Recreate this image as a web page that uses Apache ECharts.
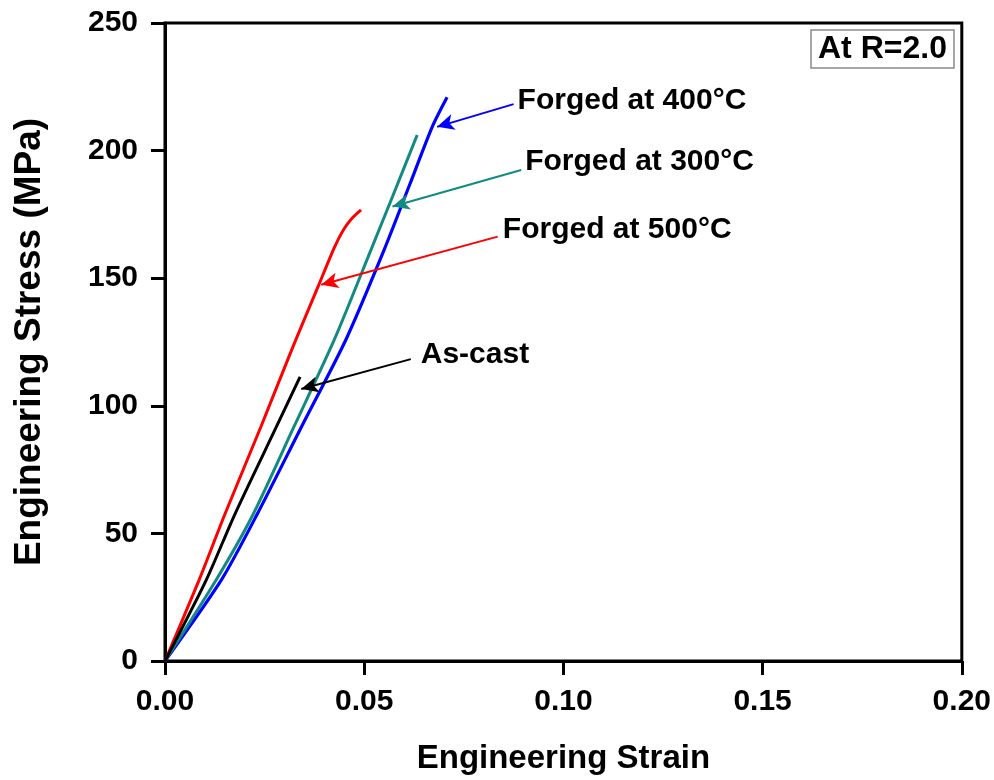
<!DOCTYPE html>
<html>
<head>
<meta charset="utf-8">
<script src="https://cdn.jsdelivr.net/npm/echarts@6/dist/echarts.min.js"></script>
<style>html,body{margin:0;padding:0;background:#fff;}#c{width:994px;height:780px;}</style>
</head>
<body>
<div id="c"></div>
<script>
// ---- data (strain, stress MPa) ----
const xTicks = [0, 0.05, 0.10, 0.15, 0.20];
const yTicks = [0, 50, 100, 150, 200, 250];

const strain400 = [0, 0.0142, 0.0231, 0.0343, 0.0454, 0.0550, 0.0615, 0.0671, 0.0708];
const stress400 = [0, 31.9, 57.4, 91.9, 125.9, 161.1, 187.0, 209.4, 220.9];

const strain300 = [0, 0.0129, 0.0221, 0.0324, 0.0425, 0.0517, 0.0575, 0.0633];
const stress300 = [0, 31.9, 57.4, 91.9, 125.9, 161.1, 183.5, 206.1];

const strain500 = [0, 0.0086, 0.0150, 0.0241, 0.0322, 0.0386, 0.0425, 0.0448, 0.0470, 0.0492];
const stress500 = [0, 31.9, 57.4, 91.9, 123.5, 147.4, 162.0, 169.0, 173.6, 176.8];

const strainCast = [0, 0.0104, 0.0175, 0.0280, 0.0339];
const stressCast = [0, 31.9, 57.4, 91.9, 111.3];

const seriesNames = ['Forged at 400°C', 'Forged at 300°C', 'Forged at 500°C', 'As-cast'];

// annotation arrows: [startStrain, startStress, tipStrain, tipStress]
const arrow400 = [0.0875, 218.2, 0.0683, 209.3];
const arrow300 = [0.0894, 192.4, 0.0571, 178.1];
const arrow500 = [0.0835, 166.3, 0.0392, 147.4];
const arrowCast = [0.0617, 118.3, 0.0342, 106.6];
// label anchors (left edge / vertical middle of text) in data units
const label400 = [0.0885, 219.4];
const label300 = [0.0904, 195.6];
const label500 = [0.0848, 168.9];
const labelCast = [0.0642, 120.0];

const FONT = 'Liberation Sans, Arial, sans-serif';

function zip(xs, ys) { return xs.map((x, i) => [x, ys[i]]); }

function mkSeries(name, xs, ys, color, arrow, lab, width) {
  return {
    name: name,
    type: 'line',
    data: zip(xs, ys),
    showSymbol: false,
    smooth: 0.25,
    lineStyle: { color: color, width: width },
    itemStyle: { color: color },
    z: 3,
    markLine: {
      silent: true,
      animation: false,
      symbolSize: [12, 17],
      lineStyle: { color: color, width: 2, type: 'solid' },
      label: { show: false },
      data: [[
        { coord: [arrow[0], arrow[1]], symbol: 'none' },
        { coord: [arrow[2], arrow[3]], symbol: 'arrow' }
      ]]
    },
    markPoint: {
      silent: true,
      animation: false,
      data: [{
        coord: lab,
        symbol: 'circle',
        symbolSize: 0,
        label: {
          show: true,
          position: 'right',
          distance: 0,
          formatter: name,
          color: '#000',
          fontFamily: FONT,
          fontWeight: 'bold',
          fontSize: 30
        }
      }]
    }
  };
}

const chart = echarts.init(document.getElementById('c'), null, { renderer: 'canvas' });
chart.setOption({
  animation: false,
  backgroundColor: '#fff',
  title: {
    text: 'At R=2.0',
    left: 811,
    top: 30,
    padding: [3, 7, 3, 7],
    borderColor: '#8a8a8a',
    borderWidth: 1.5,
    textStyle: { fontFamily: FONT, fontWeight: 'bold', fontSize: 32, color: '#000' }
  },
  grid: {
    left: 165, right: 29, top: 23, bottom: 119,
    show: true, borderColor: '#000', borderWidth: 3, backgroundColor: 'transparent'
  },
  xAxis: {
    type: 'value',
    min: xTicks[0], max: xTicks[xTicks.length - 1], interval: 0.05,
    name: 'Engineering Strain',
    nameLocation: 'middle',
    nameGap: 81,
    nameTextStyle: { fontFamily: FONT, fontWeight: 'bold', fontSize: 33, color: '#000' },
    axisLine: { show: true, lineStyle: { color: '#000', width: 3 } },
    axisTick: { show: true, length: 14, lineStyle: { color: '#000', width: 3 } },
    axisLabel: {
      margin: 26, color: '#000', fontFamily: FONT, fontWeight: 'bold', fontSize: 30,
      formatter: v => v.toFixed(2), showMaxLabel: true
    },
    splitLine: { show: false }
  },
  yAxis: {
    type: 'value',
    min: yTicks[0], max: yTicks[yTicks.length - 1], interval: 50,
    name: 'Engineering Stress (MPa)',
    nameLocation: 'middle',
    nameGap: 117,
    nameTextStyle: { fontFamily: FONT, fontWeight: 'bold', fontSize: 37, color: '#000' },
    axisLine: { show: true, lineStyle: { color: '#000', width: 3 } },
    axisTick: { show: true, length: 14, lineStyle: { color: '#000', width: 3 } },
    axisLabel: { margin: 27, color: '#000', fontFamily: FONT, fontWeight: 'bold', fontSize: 30 },
    splitLine: { show: false }
  },
  series: [
    mkSeries(seriesNames[0], strain400, stress400, '#0000ff', arrow400, label400, 3.2),
    mkSeries(seriesNames[1], strain300, stress300, '#128a82', arrow300, label300, 3),
    mkSeries(seriesNames[2], strain500, stress500, '#ff0000', arrow500, label500, 3),
    mkSeries(seriesNames[3], strainCast, stressCast, '#000000', arrowCast, labelCast, 3)
  ]
});
</script>
</body>
</html>
